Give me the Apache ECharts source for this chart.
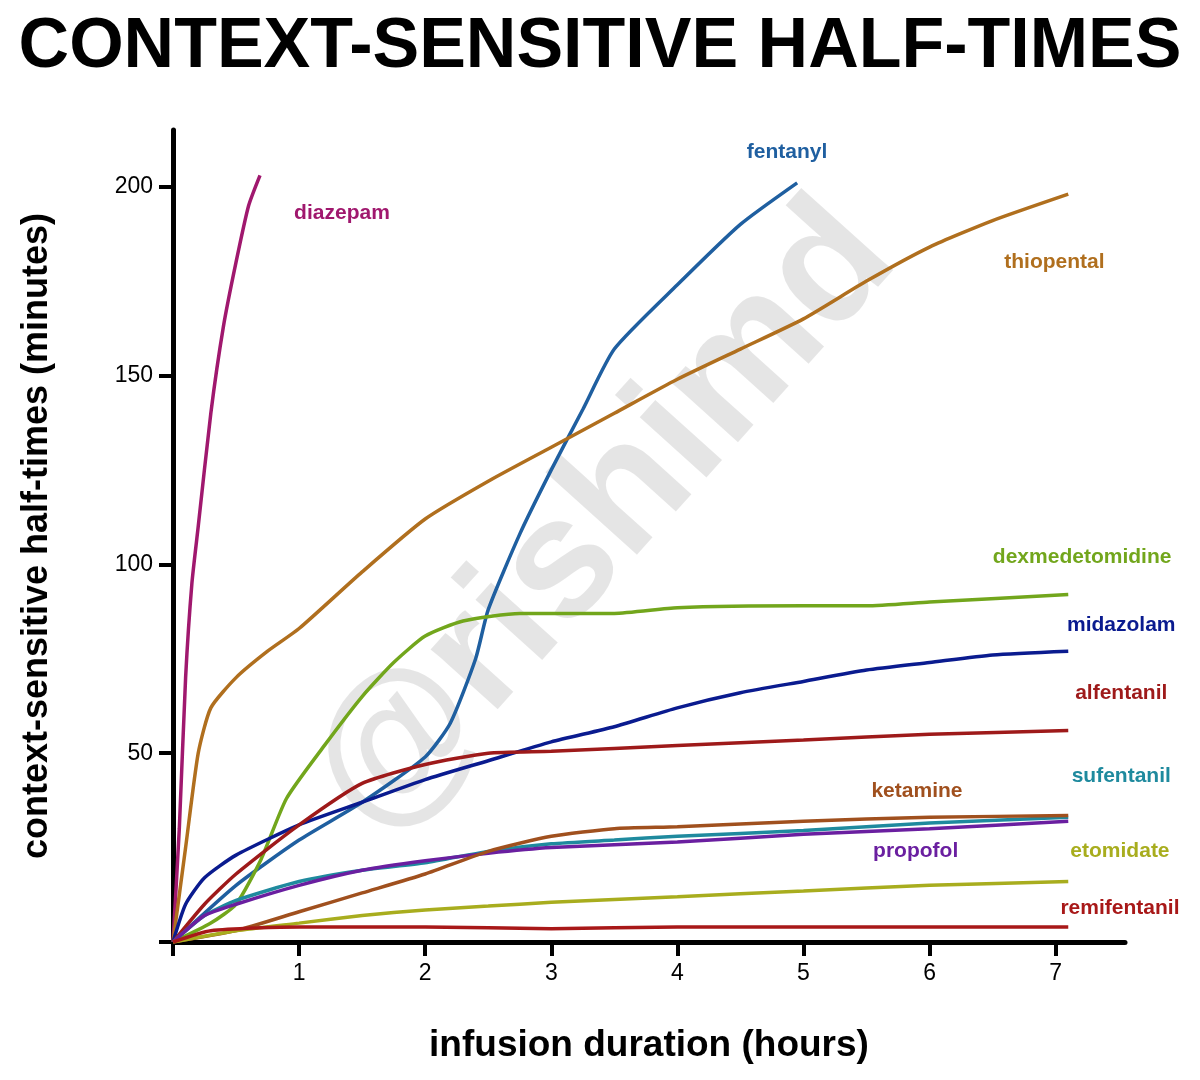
<!DOCTYPE html>
<html>
<head>
<meta charset="utf-8">
<script src="https://cdn.jsdelivr.net/npm/echarts@6/dist/echarts.min.js"></script>
<style>html,body{margin:0;background:#fff}#c{width:1200px;height:1080px}</style>
</head>
<body>
<div id="c"></div>
<script>
// drug names, colours, curves [hours, minutes], label anchor [hours, minutes]
var drugs = ['diazepam','fentanyl','thiopental','dexmedetomidine','midazolam','alfentanil','sufentanil','propofol','ketamine','etomidate','remifentanil'];
var colors = ['#a0186e','#1f5fa0','#b06f1e','#72a61c','#0a1b8f','#9e1a1a','#1f8a9e','#6a1fa0','#a0501e','#a8ad1e','#a81818'];
var diazepam = [[0,0],[0.05,30],[0.1,70],[0.15,95],[0.2,110],[0.3,140],[0.4,163],[0.5,180],[0.6,195],[0.69,203]];
var fentanyl = [[0,0],[0.5,15],[1,27],[1.5,37],[2,49],[2.2,58],[2.4,75],[2.5,88],[2.75,108],[3,125],[3.25,141],[3.5,157],[4,174],[4.5,190],[4.95,201]];
var thiopental = [[0,0],[0.1,25],[0.2,50],[0.3,62],[0.5,70],[0.75,77],[1,83],[1.5,98],[2,112],[2.5,122],[3,131],[3.5,140],[4,149],[4.5,157],[5,165],[5.5,175],[6,184],[6.5,191],[7.1,198]];
var dexmedetomidine = [[0,0],[0.3,5],[0.5,10],[0.7,22],[0.9,38],[1.2,52],[1.5,65],[1.75,74],[2,81],[2.3,85],[2.75,87],[3.5,87],[4,88.5],[5,89],[5.5,89],[6,90],[7.1,92]];
var midazolam = [[0,0],[0.1,10],[0.25,17],[0.5,23],[1,31],[1.5,37],[2,43],[2.5,48],[3,53],[3.5,57],[4,62],[4.5,66],[5,69],[5.5,72],[6,74],[6.5,76],[7.1,77]];
var alfentanil = [[0,0],[0.25,10],[0.5,18],[1,31],[1.5,42],[2,47],[2.5,50],[3,50.5],[4,52],[5,53.5],[6,55],[7.1,56]];
var sufentanil = [[0,0],[0.25,7],[0.5,11],[1,16],[1.5,19],[2,21],[2.5,24],[3,26],[3.5,27],[4,28],[5,29.5],[6,31.5],[7.1,33]];
var propofol = [[0,0],[0.25,7],[0.5,10],[1,15],[1.5,19],[2,21.5],[2.5,23.5],[3,25],[4,26.5],[5,28.5],[6,30],[7.1,32]];
var ketamine = [[0,0],[0.5,3],[1,8],[1.5,13],[2,18],[2.5,24],[3,28],[3.5,30],[4,30.5],[5,32],[6,33],[7.1,33.5]];
var etomidate = [[0,0],[0.5,3],[1,5],[1.5,7],[2,8.5],[2.5,9.5],[3,10.5],[4,12],[5,13.5],[6,15],[7.1,16]];
var remifentanil = [[0,0],[0.3,3],[1,4],[2,4],[3,3.5],[4,4],[5,4],[6,4],[7.1,4]];
var curves = [diazepam,fentanyl,thiopental,dexmedetomidine,midazolam,alfentanil,sufentanil,propofol,ketamine,etomidate,remifentanil];
var labelAt = [[1.34,193],[4.87,209],[6.99,180],[7.21,102],[7.52,84],[7.52,66],[7.52,44],[5.89,24],[5.9,40],[7.51,24],[7.51,9]];

var chart = echarts.init(document.getElementById('c'));
var font = 'Liberation Sans, Arial, sans-serif';
var axisCommon = {
  axisLine: {lineStyle: {color: '#000', width: 5}},
  axisTick: {length: 14, lineStyle: {color: '#000', width: 4}},
  splitLine: {show: false},
  axisLabel: {color: '#000', fontSize: 23, fontFamily: font, margin: 20, showMaxLabel: false,
    formatter: function (v) { return v === 0 ? '' : v; }}
};
chart.setOption({
  animation: false,
  title: {text: 'CONTEXT-SENSITIVE HALF-TIMES', left: 'center', top: 8,
    textStyle: {fontSize: 70, fontWeight: 'bold', color: '#000', fontFamily: font}},
  grid: {left: 173, right: 75, top: 130, bottom: 138},
  xAxis: Object.assign({type: 'value', min: 0, max: 7.55, interval: 1, name: 'infusion duration (hours)',
    nameLocation: 'middle', nameGap: 85, nameTextStyle: {fontSize: 37, fontWeight: 'bold', color: '#000', fontFamily: font}}, axisCommon),
  yAxis: Object.assign({type: 'value', min: 0, max: 215, interval: 50, name: 'context-sensitive half-times (minutes)',
    nameLocation: 'middle', nameGap: 118, nameTextStyle: {fontSize: 36, fontWeight: 'bold', color: '#000', fontFamily: font}}, axisCommon),
  series: drugs.map(function (d, i) {
    return {name: d, type: 'line', data: curves[i], showSymbol: false, smooth: 0.2,
      lineStyle: {color: colors[i], width: 3.5}, z: 3};
  })
});

// watermark and drug labels
var g = [{type: 'text', x: 605, y: 520, rotation: Math.PI / 180 * 48, z: 0,
  style: {text: '@rishimd', fontSize: 170, fontWeight: 'bold', fill: 'rgba(0,0,0,0.1)', fontFamily: font, align: 'center', verticalAlign: 'middle'}}];
drugs.forEach(function (d, i) {
  var p = chart.convertToPixel({gridIndex: 0}, labelAt[i]);
  g.push({type: 'text', x: p[0], y: p[1], z: 10,
    style: {text: d, fontSize: 21, fontWeight: 'bold', fill: colors[i], fontFamily: font, align: 'center', verticalAlign: 'middle'}});
});
chart.setOption({graphic: g});
</script>
</body>
</html>
